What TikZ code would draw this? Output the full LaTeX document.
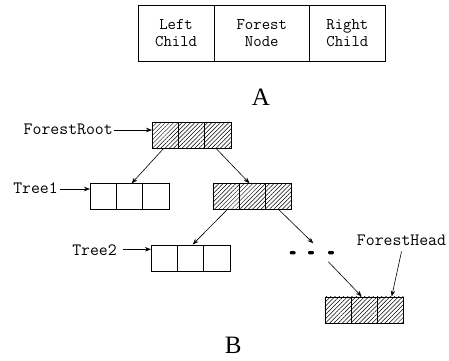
\documentclass[tikz,border=0pt]{standalone}
\usepackage{fontspec}
\setmainfont{Liberation Serif}
\usetikzlibrary{patterns.meta,arrows.meta}

\tikzset{
  lbl/.style={font=\ttfamily\fontsize{17.3}{17}\selectfont, inner sep=0pt},
  cellA/.style={draw, line width=0.8pt, minimum height=56pt, inner sep=0pt, anchor=north west,
    align=center, font=\ttfamily\fontsize{16.3}{16.7}\selectfont},
  triple/.style={draw, line width=0.8pt, minimum width=78.5pt, minimum height=26pt,
    inner sep=0pt, anchor=north west,
    path picture={
      \draw[line width=0.8pt] ([xshift=26.17pt]path picture bounding box.north west)
            -- ([xshift=26.17pt]path picture bounding box.south west);
      \draw[line width=0.8pt] ([xshift=52.33pt]path picture bounding box.north west)
            -- ([xshift=52.33pt]path picture bounding box.south west);}},
  hatched/.style={triple, preaction={pattern={Lines[angle=45,distance=3pt,line width=0.5pt]}}},
  arr/.style={line width=0.6pt, -{Stealth[length=6pt,width=4.5pt]}},
  caption/.style={font=\fontsize{25}{28}\selectfont, inner sep=0pt}
}

\begin{document}
\begin{tikzpicture}[x=1pt,y=-1pt]
\useasboundingbox (0,0) rectangle (449,360);

% record layout of one forest node
\node[cellA, minimum width=76pt] (lc) at (137.7,5) {Left\\Child};
\node[cellA, minimum width=95.3pt] (fn) at (213.7,5) {Forest\\Node};
\node[cellA, minimum width=76pt] (rc) at (309,5) {Right\\Child};
\node[caption] (capA) at (261,97) {A};

% the forest
\node[hatched] (root) at (152,122.3) {};
\node[triple]  (t1)   at (90,183.3) {};
\node[hatched] (mid)  at (212.5,183.3) {};
\node[triple]  (t2)   at (151,244.5) {};
\node[hatched] (head) at (324.5,296.5) {};

% ellipsis between mid and head
\foreach \x in {292.7,311,331}
  \fill[rounded corners=1pt] (\x-2.8,251) rectangle (\x+2.8,254.4);
\coordinate (dotsin)  at (313.3,243.3);
\coordinate (dotsout) at (328.3,261.7);

\draw[arr] ([xshift=11pt]root.south west) -- ([xshift=41.7pt]t1.north west);
\draw[arr] ([xshift=64.7pt]root.south west) -- ([xshift=37pt]mid.north west);
\draw[arr] ([xshift=14.2pt]mid.south west) -- ([xshift=41.7pt]t2.north west);
\draw[arr] ([xshift=66.8pt]mid.south west) -- (dotsin);
\draw[arr] (dotsout) -- ([xshift=37.2pt]head.north west);

% pointer labels
\node[lbl, anchor=east] (lroot) at (113,129) {ForestRoot};
\draw[arr] ([xshift=1pt]lroot.east |- 0,130) -- (root.west |- 0,130);
\node[lbl, anchor=east] (lt1) at (58,188.5) {Tree1};
\draw[arr] ([xshift=2pt]lt1.east |- 0,189) -- (t1.west |- 0,189);
\node[lbl, anchor=east] (lt2) at (117,250) {Tree2};
\draw[arr] ([xshift=6pt]lt2.east |- 0,249.3) -- (t2.west |- 0,249.3);
\node[lbl] (lhead) at (401.5,240) {ForestHead};
\draw[arr] ([yshift=-6pt]lhead.south) -- ([xshift=67.2pt]head.north west);

\node[caption] (capB) at (233.3,345.5) {B};
\end{tikzpicture}
\end{document}
